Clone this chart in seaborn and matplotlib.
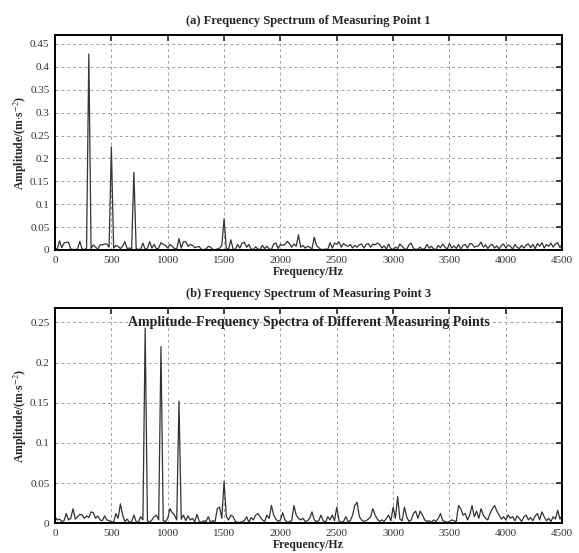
"""Amplitude-frequency spectra of two measuring points"""

import matplotlib
matplotlib.use("Agg")
import matplotlib.pyplot as plt
import matplotlib.ticker as mticker
import numpy as np
import pandas as pd
import seaborn as sns

# frequency bins (Hz), 20 Hz resolution
freq = np.arange(0, 4501, 20)

# amplitude of measuring point 1 (m/s^2), one row = 200 Hz
amp_1 = [
    0.004, 0.002, 0.020, 0.005, 0.015, 0.017, 0.016, 0.002, 0.001, 0.001,
    0.002, 0.019, 0.002, 0.001, 0.004, 0.428, 0.003, 0.011, 0.006, 0.002,
    0.011, 0.011, 0.013, 0.013, 0.006, 0.225, 0.004, 0.010, 0.008, 0.003,
    0.008, 0.018, 0.003, 0.004, 0.003, 0.170, 0.003, 0.001, 0.002, 0.015,
    0.001, 0.004, 0.018, 0.004, 0.012, 0.002, 0.004, 0.016, 0.012, 0.010,
    0.004, 0.012, 0.008, 0.003, 0.002, 0.025, 0.004, 0.018, 0.018, 0.008,
    0.012, 0.010, 0.005, 0.007, 0.007, 0.001, 0.001, 0.002, 0.008, 0.006,
    0.001, 0.001, 0.002, 0.004, 0.010, 0.068, 0.003, 0.002, 0.022, 0.002,
    0.001, 0.012, 0.004, 0.015, 0.017, 0.006, 0.012, 0.002, 0.001, 0.007,
    0.002, 0.001, 0.010, 0.003, 0.008, 0.002, 0.001, 0.013, 0.015, 0.003,
    0.012, 0.010, 0.012, 0.019, 0.014, 0.006, 0.013, 0.008, 0.033, 0.006,
    0.010, 0.004, 0.008, 0.006, 0.002, 0.028, 0.010, 0.005, 0.001, 0.001,
    0.002, 0.001, 0.016, 0.004, 0.015, 0.012, 0.018, 0.006, 0.014, 0.010,
    0.008, 0.012, 0.004, 0.010, 0.006, 0.011, 0.013, 0.004, 0.012, 0.014,
    0.006, 0.013, 0.011, 0.015, 0.012, 0.004, 0.009, 0.002, 0.013, 0.003,
    0.001, 0.006, 0.003, 0.013, 0.008, 0.002, 0.001, 0.011, 0.015, 0.004,
    0.001, 0.002, 0.006, 0.001, 0.003, 0.012, 0.004, 0.008, 0.002, 0.001,
    0.010, 0.005, 0.013, 0.006, 0.002, 0.014, 0.004, 0.009, 0.003, 0.012,
    0.002, 0.010, 0.012, 0.004, 0.014, 0.013, 0.006, 0.008, 0.010, 0.017,
    0.006, 0.011, 0.003, 0.010, 0.012, 0.004, 0.009, 0.002, 0.010, 0.013,
    0.004, 0.011, 0.008, 0.002, 0.012, 0.006, 0.003, 0.010, 0.004, 0.011,
    0.013, 0.005, 0.012, 0.003, 0.014, 0.008, 0.016, 0.004, 0.012, 0.008,
    0.015, 0.006, 0.013, 0.016, 0.005, 0.014,
]

# amplitude of measuring point 3 (m/s^2)
amp_3 = [
    0.008, 0.004, 0.005, 0.002, 0.003, 0.012, 0.004, 0.006, 0.018, 0.005,
    0.008, 0.011, 0.010, 0.006, 0.009, 0.007, 0.014, 0.013, 0.006, 0.009,
    0.004, 0.003, 0.009, 0.004, 0.003, 0.002, 0.001, 0.012, 0.006, 0.024,
    0.010, 0.002, 0.005, 0.001, 0.002, 0.010, 0.002, 0.001, 0.008, 0.004,
    0.243, 0.003, 0.001, 0.004, 0.008, 0.010, 0.004, 0.220, 0.003, 0.002,
    0.006, 0.018, 0.013, 0.010, 0.004, 0.152, 0.005, 0.010, 0.003, 0.009,
    0.004, 0.006, 0.002, 0.011, 0.002, 0.001, 0.003, 0.002, 0.008, 0.001,
    0.003, 0.002, 0.018, 0.020, 0.006, 0.052, 0.008, 0.004, 0.010, 0.008,
    0.002, 0.001, 0.001, 0.002, 0.003, 0.008, 0.001, 0.007, 0.004, 0.010,
    0.012, 0.008, 0.004, 0.002, 0.010, 0.006, 0.022, 0.010, 0.005, 0.002,
    0.004, 0.013, 0.004, 0.001, 0.002, 0.003, 0.022, 0.010, 0.006, 0.004,
    0.006, 0.002, 0.003, 0.006, 0.014, 0.004, 0.002, 0.003, 0.010, 0.003,
    0.001, 0.008, 0.004, 0.010, 0.003, 0.020, 0.003, 0.001, 0.002, 0.008,
    0.002, 0.003, 0.010, 0.022, 0.026, 0.008, 0.004, 0.002, 0.003, 0.005,
    0.008, 0.018, 0.010, 0.005, 0.002, 0.004, 0.002, 0.006, 0.010, 0.003,
    0.020, 0.006, 0.033, 0.005, 0.003, 0.020, 0.008, 0.002, 0.004, 0.012,
    0.015, 0.006, 0.015, 0.010, 0.004, 0.002, 0.003, 0.001, 0.004, 0.002,
    0.006, 0.012, 0.003, 0.002, 0.001, 0.002, 0.004, 0.003, 0.002, 0.022,
    0.018, 0.010, 0.012, 0.004, 0.010, 0.022, 0.008, 0.015, 0.006, 0.018,
    0.010, 0.006, 0.004, 0.012, 0.018, 0.022, 0.015, 0.010, 0.005, 0.008,
    0.004, 0.010, 0.006, 0.008, 0.003, 0.009, 0.006, 0.002, 0.008, 0.010,
    0.004, 0.007, 0.003, 0.009, 0.012, 0.004, 0.014, 0.008, 0.003, 0.006,
    0.002, 0.008, 0.005, 0.016, 0.005, 0.010,
]

titles = ["(a) Frequency Spectrum of Measuring Point 1",
          "(b) Frequency Spectrum of Measuring Point 3"]
overlay_text = "Amplitude-Frequency Spectra of Different Measuring Points"
ylims = [0.47, 0.268]
yticks = [np.arange(0, 0.451, 0.05), np.arange(0, 0.251, 0.05)]

sns.set_style("white")
plt.rcParams["font.family"] = ["Liberation Serif", "DejaVu Serif"]
plt.rcParams["mathtext.fontset"] = "stix"

fig = plt.figure(figsize=(5.79, 5.53), dpi=100)
ax_top = fig.add_axes([0.095, 0.548, 0.876, 0.389])
ax_bot = fig.add_axes([0.095, 0.054, 0.876, 0.389])

for ax, amp, title, ymax, yt in zip([ax_top, ax_bot], [amp_1, amp_3],
                                    titles, ylims, yticks):
    df = pd.DataFrame({"Frequency": freq, "Amplitude": amp})
    sns.lineplot(data=df, x="Frequency", y="Amplitude", ax=ax,
                 color="#333333", linewidth=0.9)
    ax.set_xlim(0, 4500)
    ax.set_ylim(0, ymax)
    ax.set_xticks(np.arange(0, 4501, 500))
    ax.set_yticks(yt)
    ax.yaxis.set_major_formatter(mticker.FormatStrFormatter("%g"))
    ax.grid(True, linestyle=(0, (3, 3)), color="#a0a0a0", linewidth=0.7)
    ax.tick_params(direction="in", top=True, right=True, length=4,
                   width=1.2, labelsize=8, labelcolor="#333333", pad=4)
    for spine in ax.spines.values():
        spine.set_linewidth(1.4)
        spine.set_color("black")
    ax.set_title(title, fontsize=9, fontweight="bold", pad=8)
    ax.set_xlabel("Frequency/Hz", fontsize=8.5, fontweight="bold", labelpad=1)
    ax.set_ylabel(r"Amplitude/(m$\cdot$s$^{-2}$)", fontsize=8.5,
                  fontweight="bold", labelpad=1)

ax_bot.text(0.5, 0.25, overlay_text, transform=ax_bot.get_yaxis_transform(),
            ha="center", va="center", fontsize=10, fontweight="bold",
            color="#222222")

fig.savefig("out.png", dpi=100)
